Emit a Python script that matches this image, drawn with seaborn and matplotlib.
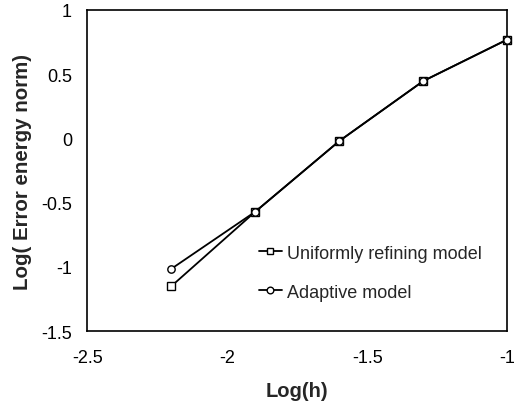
import matplotlib
matplotlib.use("Agg")
import matplotlib.pyplot as plt
from matplotlib.lines import Line2D
import seaborn as sns
import pandas as pd

log_h = [-2.2, -1.9, -1.6, -1.3, -1.0]
uniform_err = [-1.15, -0.57, -0.02, 0.447, 0.77]
adaptive_err = [-1.015, -0.57, -0.02, 0.447, 0.77]
series_names = ["Uniformly refining model", "Adaptive model"]
series_markers = ["s", "o"]
x_ticks = [-2.5, -2, -1.5, -1]
y_ticks = [-1.5, -1, -0.5, 0, 0.5, 1]

sns.set_theme(style="white")
plt.rcParams['font.family'] = ['Liberation Sans', 'DejaVu Sans']

df = pd.DataFrame({
    "x": log_h + log_h,
    "y": uniform_err + adaptive_err,
    "series": [series_names[0]] * len(log_h) + [series_names[1]] * len(log_h),
})

fig = plt.figure(figsize=(5.14, 4.06), dpi=100)
ax = fig.add_axes([0.170, 0.182, 0.817, 0.791])

sns.lineplot(data=df, x="x", y="y", hue="series", style="series",
             markers=dict(zip(series_names, series_markers)),
             dashes=False, palette={series_names[0]: "black", series_names[1]: "black"},
             linewidth=1.3, markersize=5.3, markerfacecolor="white",
             markeredgecolor="black", markeredgewidth=1.0, ax=ax, legend=False,
             clip_on=False, zorder=5)

ax.set_xlim(-2.5, -1)
ax.set_ylim(-1.5, 1)
ax.set_xticks(x_ticks)
ax.set_xticklabels([f"{v:g}" for v in x_ticks])
ax.set_yticks(y_ticks)
ax.set_yticklabels([f"{v:g}" for v in y_ticks])
ax.tick_params(direction="in", length=4, width=1, colors="black", labelsize=13)
ax.tick_params(axis="x", pad=13)
ax.tick_params(axis="y", pad=11)
for s in ax.spines.values():
    s.set_color("black")
    s.set_linewidth(1.2)

ax.set_xlabel("Log(h)", fontsize=14.5, fontweight="bold", labelpad=11)
ax.set_ylabel("Log( Error energy norm)", fontsize=14.8, fontweight="bold", labelpad=6.5)

handles = [Line2D([0], [0], color="black", linewidth=1.3, marker=m, markersize=4.8,
                  markerfacecolor="white", markeredgecolor="black", markeredgewidth=1.0)
           for m in series_markers]
ax.legend(handles, series_names, loc="center left", bbox_to_anchor=(0.408, 0.182),
          frameon=False, fontsize=13, handlelength=1.3, handletextpad=0.25,
          labelspacing=1.23, borderpad=0, borderaxespad=0, numpoints=1)

fig.savefig("out.png", dpi=100)
